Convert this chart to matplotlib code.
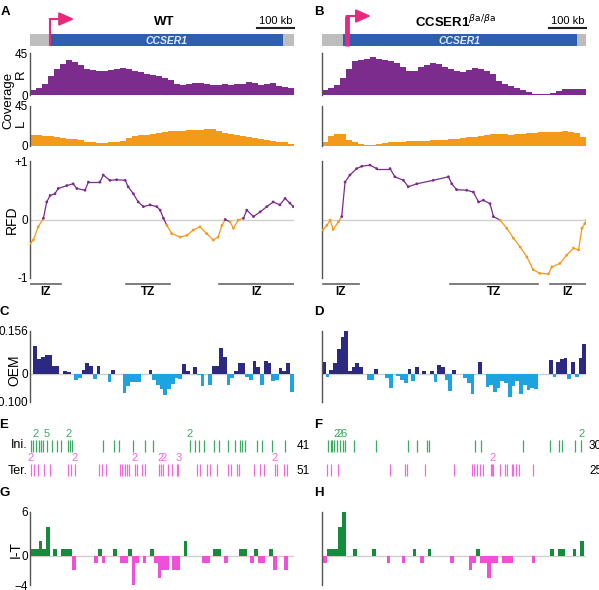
import numpy as np
import matplotlib.pyplot as plt

plt.rcParams['font.family'] = ['Liberation Sans', 'DejaVu Sans']

# ---------------- data (genomic positions in kb within the 710 kb window) ----------------
span_kb = 710

gene_wt = [54, 680]
gene_ko = [56, 685]
tss_wt = 54
tss_ko = 67

# coverage (reads), equal bins across the window
cov_r_wt = [5, 8, 12, 20, 28, 33, 37, 35, 32, 28, 27, 26, 26, 27, 28, 29, 28, 26, 25, 23,
            21, 20, 18, 16, 12, 11, 12, 13, 13, 12, 11, 11, 12, 11, 12, 12, 14, 13, 11, 12,
            13, 10, 9, 7]
cov_l_wt = [12, 12, 11, 11, 10, 9, 8, 8, 7, 5, 4, 3, 3, 4, 4, 6, 9, 11, 12, 12,
            13, 15, 16, 17, 17, 17, 18, 18, 18, 19, 19, 17, 15, 13, 12, 11, 10, 9, 8, 7,
            6, 5, 4, 2]
cov_r_ko = [5, 8, 11, 18, 28, 36, 37, 39, 41, 39, 38, 36, 34, 30, 26, 26, 30, 32, 34, 33,
            30, 28, 26, 25, 27, 29, 28, 26, 22, 15, 12, 10, 7, 5, 3, 1, 1, 1, 2, 4,
            6, 6, 6, 6]
cov_l_ko = [5, 11, 14, 13, 7, 4, 2, 1, 1, 2, 3, 4, 5, 5, 6, 6, 6, 6, 7, 7,
            7, 8, 8, 9, 10, 10, 11, 12, 13, 14, 13, 12, 13, 14, 15, 15, 16, 16, 16, 16,
            17, 16, 15, 10]

# replication fork directionality
rfd_x_wt = [0, 9, 22, 36, 45, 54, 67, 76, 99, 116, 126, 148, 157, 188, 197, 215, 233, 256, 264, 278,
            291, 305, 323, 341, 350, 359, 368, 381, 404, 422, 439, 457, 475, 493, 506, 516, 525, 538, 547, 560,
            574, 583, 601, 619, 637, 654, 672, 686, 699, 708]
rfd_y_wt = [-0.41, -0.35, -0.125, 0.02, 0.3, 0.41, 0.44, 0.53, 0.58, 0.61, 0.53, 0.5, 0.64, 0.64, 0.76, 0.67, 0.68, 0.67, 0.56, 0.44,
            0.3, 0.22, 0.25, 0.22, 0.16, 0.02, -0.1, -0.24, -0.3, -0.27, -0.18, -0.125, -0.24, -0.35, -0.3, -0.1, 0.0, -0.04, -0.15, -0.01,
            0.02, 0.16, 0.05, 0.13, 0.22, 0.3, 0.25, 0.36, 0.28, 0.22]
rfd_x_ko = [2, 13, 22, 30, 44, 53, 62, 75, 93, 107, 129, 147, 183, 196, 219, 232, 255, 299, 340, 349,
            362, 389, 407, 421, 434, 452, 461, 479, 497, 515, 533, 551, 568, 586, 609, 618, 640, 658, 676, 690,
            699, 707, 712]
rfd_y_ko = [-0.18, -0.1, -0.01, -0.17, -0.04, 0.05, 0.64, 0.76, 0.87, 0.91, 0.93, 0.87, 0.87, 0.73, 0.67, 0.56, 0.61, 0.67, 0.73, 0.61,
            0.51, 0.5, 0.47, 0.3, 0.33, 0.27, 0.05, -0.01, -0.15, -0.32, -0.47, -0.64, -0.86, -0.92, -0.93, -0.81, -0.75, -0.61, -0.49, -0.52,
            -0.15, -0.07, -0.01]

zone_start_wt = [0, 258, 509]
zone_end_wt = [83, 377, 710]
zone_lab_wt = ['IZ', 'TZ', 'IZ']
zone_start_ko = [2, 344, 613]
zone_end_ko = [100, 582, 710]
zone_lab_ko = ['IZ', 'TZ', 'IZ']

# OEM, 10 kb bins
oem_start_wt = 9
oem_wt = [0.100, 0.055, 0.060, 0.070, 0.068, 0.030, 0.030, 0.0, 0.012, 0.006,
          0.0, -0.022, -0.015, 0.013, 0.040, 0.028, -0.018, 0.030, 0.0, 0.0,
          -0.030, 0.013, 0.0, 0.0, -0.070, -0.045, -0.030, -0.030, -0.030, 0.0,
          0.0, 0.015, -0.020, -0.040, -0.055, -0.075, -0.055, -0.035, -0.015, -0.018,
          0.036, 0.010, 0.0, 0.025, -0.005, -0.045, 0.0, -0.040, 0.030, 0.030,
          0.095, 0.060, -0.040, -0.015, 0.012, 0.040, 0.040, -0.010, -0.020, 0.045,
          0.025, -0.040, 0.048, 0.040, -0.025, -0.020, 0.020, 0.012, 0.040, -0.065]
oem_start_ko = 0
oem_ko = [0.042, -0.012, 0.013, 0.039, 0.090, 0.135, 0.156, 0.012, 0.024, 0.039,
          0.025, 0.0, -0.020, -0.020, 0.018, 0.0, 0.0, -0.014, -0.052, 0.0,
          -0.008, -0.020, -0.032, 0.019, -0.026, 0.025, 0.0, 0.010, 0.0, 0.010,
          -0.029, 0.031, 0.024, -0.020, -0.062, 0.013, 0.0, 0.0, -0.014, -0.032,
          -0.074, 0.0, 0.043, 0.0, -0.048, -0.040, -0.066, -0.050, -0.026, -0.032,
          -0.082, -0.044, -0.026, -0.072, -0.038, -0.058, -0.050, -0.056, 0.0, 0.0,
          0.0, 0.051, -0.012, 0.042, 0.054, 0.057, -0.018, 0.042, -0.011, 0.057,
          0.109]

# initiation / termination events
ini_wt = [2, 8, 16, 23, 30, 36, 45, 58, 72, 83, 103, 108, 112, 195, 227, 239, 276, 308, 332,
          429, 444, 455, 469, 496, 507, 532, 552, 565, 571, 578, 610, 625, 650, 686]
ini_wt_n = [1, 1, 2, 1, 1, 1, 5, 1, 1, 1, 2, 1, 1, 1, 1, 1, 1, 1, 1,
            2, 1, 1, 1, 1, 1, 1, 1, 1, 1, 1, 1, 1, 1, 1]
ter_wt = [2, 12, 21, 38, 54, 103, 109, 121, 186, 193, 204, 242, 248, 256, 261, 267, 282, 287, 300, 309,
          347, 352, 359, 372, 381, 395, 399, 448, 457, 475, 484, 502, 533, 541, 556, 563,
          603, 619, 630, 659, 665, 683, 692]
ter_wt_n = [2, 1, 1, 1, 1, 1, 1, 2, 1, 1, 1, 1, 1, 1, 1, 1, 2, 1, 1, 1,
            1, 2, 2, 1, 1, 1, 3, 1, 1, 1, 1, 1, 1, 1, 1, 1,
            1, 1, 1, 2, 1, 1, 1]
ini_ko = [17, 24, 28, 33, 40, 48, 57, 62, 86, 145, 232, 255, 282, 288, 412, 428, 540, 614, 638, 646, 681, 697]
ini_ko_n = [1, 1, 1, 1, 2, 2, 6, 1, 1, 1, 1, 1, 1, 1, 1, 1, 1, 1, 1, 1, 1, 2]
ter_ko = [14, 24, 44, 183, 223, 228, 277, 355, 403, 409, 416, 425, 434, 455, 458, 461, 479, 491, 497, 510,
          515, 521, 530, 568]
ter_ko_n = [1, 1, 1, 1, 1, 1, 1, 1, 1, 1, 1, 1, 1, 1, 2, 1, 1, 1, 1, 1,
            1, 1, 1, 1]
totals_wt = ['41', '51']
totals_ko = ['30', '25']

# initiation minus termination, 10 kb bins
it_start_wt = -7
it_wt = [-1, 1, 1, 2, 1, 4, 0, 1, 0, 1, 1, 1, -2, 0, 0, 0, 0, 0, -1, 1,
         -1, 0, 0, 1, 0, -1, -1, 1, -4, -1, 0, -1, 0, 1, -1, -3, -2, -2, 0, -2,
         -2, 0, 2, 0, 0, 0, 0, -1, -1, 0, 1, 1, 0, -1, 0, 0, 0, 1, 1, 0,
         -1, 1, -1, -1, 0, 1, -2, 0, 0, -2, 0]
it_start_ko = 4
it_ko = [-1, 1, 1, 1, 4, 6, 0, 0, 1, 0, 0, 0, 0, 1, 0, 0, 0, -1, 0, 0,
         0, -1, 0, 0, 1, 0, -1, 0, 1, 0, 0, 0, 0, 0, -1, 0, 0, 0, 0, -2,
         -1, 1, -1, -1, -3, -1, -1, 0, -1, -1, -1, 0, 0, 0, 0, 0, -1, 0, 0, 0,
         0, 1, 0, 1, 1, 0, 0, 1, 0, 2]

# ---------------- style ----------------
purple = '#7B2C8C'
orange = '#F39A1B'
navy = '#2B2A80'
sky = '#1CA3E0'
green_bar = '#148C3B'
pink_bar = '#F050D8'
ini_col = '#3DAA64'
ter_col = '#F06ADC'
gene_blue = '#2E5FAF'
gray_bar = '#BDBDBD'
arrow_col = '#E6287E'
axis_col = '#555555'
zero_col = '#CFCFCF'

W, H = 599, 590
fig = plt.figure(figsize=(W / 100, H / 100), dpi=100)


def px_axes(x0, x1, y0, y1):
    return fig.add_axes([x0 / W, 1 - y1 / H, (x1 - x0) / W, (y1 - y0) / H])


def left_spine(ax):
    for s in ['top', 'right', 'bottom']:
        ax.spines[s].set_visible(False)
    ax.spines['left'].set_color(axis_col)
    ax.spines['left'].set_linewidth(1)
    ax.set_xticks([])
    ax.tick_params(axis='y', length=0, pad=1.5, labelsize=8.5)
    ax.set_xlim(0, span_kb)
    ax.patch.set_alpha(0)


def fig_label(x, y, s, **kw):
    fig.text(x / W, 1 - y / H, s, ha='center', va='center', **kw)


cols = [
    dict(x0=30, x1=294, gene=gene_wt, tss=tss_wt, title='WT', cr=cov_r_wt, cl=cov_l_wt,
         rx=rfd_x_wt, ry=rfd_y_wt, zs=zone_start_wt, ze=zone_end_wt, zl=zone_lab_wt,
         oem=oem_wt, oem0=oem_start_wt, ini=ini_wt, inin=ini_wt_n, ter=ter_wt, tern=ter_wt_n,
         tot=totals_wt, it=it_wt, it0=it_start_wt, labels=True, thick=1.5),
    dict(x0=322, x1=586, gene=gene_ko, tss=tss_ko, title=r'CCSER1$^{\beta \mathrm{a}/\beta \mathrm{a}}$',
         cr=cov_r_ko, cl=cov_l_ko, rx=rfd_x_ko, ry=rfd_y_ko, zs=zone_start_ko, ze=zone_end_ko,
         zl=zone_lab_ko, oem=oem_ko, oem0=oem_start_ko, ini=ini_ko, inin=ini_ko_n, ter=ter_ko,
         tern=ter_ko_n, tot=totals_ko, it=it_ko, it0=it_start_ko, labels=False, thick=3.5),
]

for c in cols:
    x0, x1 = c['x0'], c['x1']

    # gene header
    ax = px_axes(x0, x1, 8, 48)
    ax.set_xlim(0, span_kb)
    ax.set_ylim(48, 8)
    ax.axis('off')
    ax.add_patch(plt.Rectangle((0, 34), span_kb, 12, color=gray_bar, lw=0))
    ax.add_patch(plt.Rectangle((c['gene'][0], 34), c['gene'][1] - c['gene'][0], 12, color=gene_blue, lw=0))
    ax.text((c['gene'][0] + c['gene'][1]) / 2, 40.5, 'CCSER1', color='#DCEBFF', fontsize=7.5,
            fontweight='bold', style='italic', ha='center', va='center')
    top = 19 if c['labels'] else 16
    ax.plot([c['tss'], c['tss']], [46, top], color=arrow_col, lw=c['thick'], solid_capstyle='butt', clip_on=False)
    ax.annotate('', xy=(c['tss'] + 65, top), xytext=(c['tss'] - 1, top),
                arrowprops=dict(arrowstyle='-|>,head_length=0.9,head_width=0.4', color=arrow_col,
                                lw=1.5, shrinkA=0, shrinkB=0), annotation_clip=False)
    ax.plot([span_kb - 100, span_kb], [28, 28], color='#222222', lw=1.5, clip_on=False)
    ax.text(span_kb - 50, 25.5, '100 kb', fontsize=8, ha='center', va='bottom')
    ax.text(360, 22, c['title'], fontsize=9.5, fontweight='bold', ha='center', va='center')

    # coverage R / L
    for vals, col, y0, y1 in [(c['cr'], purple, 53, 95), (c['cl'], orange, 106, 146)]:
        ax = px_axes(x0, x1, y0, y1)
        edges = np.linspace(0, span_kb, len(vals) + 1)
        ax.bar(edges[:-1], vals, width=np.diff(edges), align='edge', color=col, lw=0)
        left_spine(ax)
        ax.set_ylim(0, 45)
        if c['labels']:
            ax.set_yticks([0, 45])
        else:
            ax.set_yticks([])

    # RFD
    ax = px_axes(x0, x1, 161, 278)
    ax.axhline(0, color=zero_col, lw=1, zorder=0)
    rx, ry = c['rx'], c['ry']
    for i in range(len(rx) - 1):
        col = purple if ry[i] >= 0 else orange
        ax.plot([rx[i], rx[i + 1]], [ry[i], ry[i + 1]], color=col, lw=0.9)
    ax.scatter(rx, ry, s=4, c=[purple if v >= 0 else orange for v in ry], lw=0, zorder=3)
    left_spine(ax)
    ax.set_ylim(-1, 1)
    if c['labels']:
        ax.set_yticks([-1, 0, 1])
        ax.set_yticklabels(['-1', '0', '+1'])
    else:
        ax.set_yticks([])

    # IZ / TZ
    ax = px_axes(x0, x1, 280, 298)
    ax.set_xlim(0, span_kb)
    ax.set_ylim(298, 280)
    ax.axis('off')
    for s, e, lab in zip(c['zs'], c['ze'], c['zl']):
        ax.plot([s, e], [284, 284], color='#666666', lw=1.2)
        ax.text((s + e) / 2, 292, lab, fontsize=8.5, fontweight='bold', ha='center', va='center')

    # OEM
    ax = px_axes(x0, x1, 330.7, 401.7)
    ax.axhline(0, color=zero_col, lw=1, zorder=0)
    ob = c['oem0'] + 10 * np.arange(len(c['oem']))
    ax.bar(ob, c['oem'], width=10, align='edge', lw=0,
           color=[navy if v > 0 else sky for v in c['oem']])
    left_spine(ax)
    ax.set_ylim(-0.100, 0.156)
    if c['labels']:
        ax.set_yticks([-0.100, 0, 0.156])
        ax.set_yticklabels(['-0.100', '0', '0.156'])
    else:
        ax.set_yticks([])

    # initiation / termination events
    ax = px_axes(x0, x1, 426, 478)
    ax.set_xlim(0, span_kb)
    ax.set_ylim(478, 426)
    ax.axis('off')
    ax.vlines(c['ini'], 440, 452, color=ini_col, lw=0.9)
    ax.vlines(c['ter'], 464, 476, color=ter_col, lw=0.9)
    for p, n in zip(c['ini'], c['inin']):
        if n > 1:
            ax.text(p, 439, str(n), color=ini_col, fontsize=8, ha='center', va='bottom')
    for p, n in zip(c['ter'], c['tern']):
        if n > 1:
            ax.text(p, 463, str(n), color=ter_col, fontsize=8, ha='center', va='bottom')
    ax.text(span_kb + 8, 446, c['tot'][0], fontsize=8.5, ha='left', va='center', clip_on=False)
    ax.text(span_kb + 8, 471, c['tot'][1], fontsize=8.5, ha='left', va='center', clip_on=False)

    # I - T
    ax = px_axes(x0, x1, 512, 585)
    ax.axhline(0, color=zero_col, lw=1, zorder=0)
    ib = c['it0'] + 10 * np.arange(len(c['it']))
    ax.bar(ib, c['it'], width=10, align='edge', lw=0,
           color=[green_bar if v > 0 else pink_bar for v in c['it']])
    left_spine(ax)
    ax.set_ylim(-4, 6)
    if c['labels']:
        ax.set_yticks([-4, 0, 6])
    else:
        ax.set_yticks([])

# axis titles
fig_label(8, 100, 'Coverage', rotation=90, fontsize=9.5)
fig_label(21, 74, 'R', rotation=90, fontsize=9.5)
fig_label(21, 123, 'L', rotation=90, fontsize=9.5)
fig_label(12, 220, 'RFD', rotation=90, fontsize=10)
fig_label(14, 370, 'OEM', rotation=90, fontsize=10)
fig_label(16, 549, 'I-T', rotation=90, fontsize=10)
fig.text(28 / W, 1 - 445 / H, 'Ini.', fontsize=9, ha='right', va='center')
fig.text(28 / W, 1 - 471 / H, 'Ter.', fontsize=9, ha='right', va='center')

for lab, x, y in [('A', 1, 12), ('B', 314, 12), ('C', 0, 312), ('D', 314, 312),
                  ('E', -1, 425), ('F', 314, 425), ('G', -1, 493), ('H', 314, 493)]:
    fig.text(x / W, 1 - y / H, lab, fontsize=9.5, fontweight='bold', ha='left', va='center')

fig.savefig('out.png', dpi=100)
